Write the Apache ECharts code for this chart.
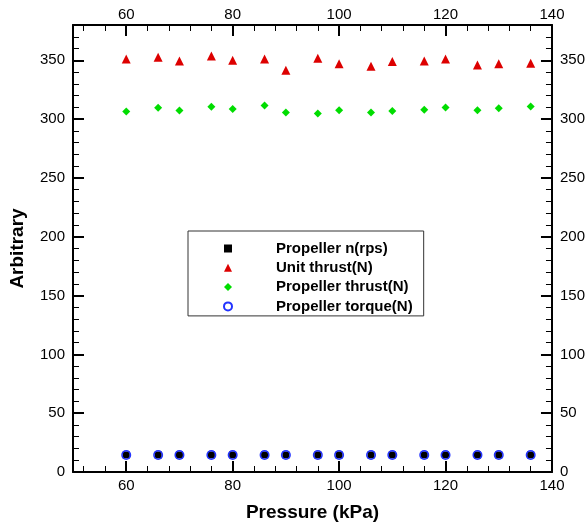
<!DOCTYPE html>
<html>
<head>
<meta charset="utf-8">
<script src="https://cdn.jsdelivr.net/npm/echarts@6/dist/echarts.min.js"></script>
<style>
html,body{margin:0;padding:0;background:#fff;}
#chart{width:588px;height:527px;}
</style>
</head>
<body>
<div id="chart"></div>
<script>
var pressure = [60, 66, 70, 76, 80, 86, 90, 96, 100, 106, 110, 116, 120, 126, 130, 136];
var propellerN = [14.5, 14.5, 14.5, 14.5, 14.5, 14.5, 14.5, 14.5, 14.5, 14.5, 14.5, 14.5, 14.5, 14.5, 14.5, 14.5];
var unitThrust = [351, 352.5, 349.5, 353.7, 350, 351, 341.5, 351.7, 347, 345, 349, 349.4, 351, 346, 347, 347.5];
var propellerThrust = [306.5, 309.6, 307.3, 310.5, 308.5, 311.6, 305.6, 304.8, 307.6, 305.6, 306.8, 307.9, 309.9, 307.6, 309.3, 310.7];
var propellerTorque = [14.5, 14.5, 14.5, 14.5, 14.5, 14.5, 14.5, 14.5, 14.5, 14.5, 14.5, 14.5, 14.5, 14.5, 14.5, 14.5];
var seriesNames = ['Propeller n(rps)', 'Unit thrust(N)', 'Propeller thrust(N)', 'Propeller torque(N)'];
var xMajorTicks = [60, 80, 100, 120, 140];
var xMinorTicks = [52, 56, 64, 68, 72, 76, 84, 88, 92, 96, 104, 108, 112, 116, 124, 128, 132, 136];

function pairs(ys) { return pressure.map(function (x, i) { return [x, ys[i]]; }); }

var FONT = '"Liberation Sans", Arial, sans-serif';
var lbl = { color: '#000', fontFamily: FONT, fontSize: 15 };
var nameStyle = { color: '#000', fontFamily: FONT, fontSize: 19, fontWeight: 'bold' };

function xMajor(pos, showName) {
  return {
    type: 'value', position: pos, min: 50, max: 140,
    name: showName ? 'Pressure (kPa)' : '', nameLocation: 'middle', nameGap: 31,
    nameTextStyle: nameStyle,
    axisLine: { show: true, onZero: false, lineStyle: { color: '#000', width: 2 } },
    axisTick: { show: true, inside: true, length: 11, customValues: xMajorTicks, lineStyle: { color: '#000', width: 2 } },
    axisLabel: Object.assign({ margin: pos === 'top' ? 3 : 6, customValues: xMajorTicks }, lbl),
    splitLine: { show: false }
  };
}
function xMinor(pos) {
  return {
    type: 'value', position: pos, min: 50, max: 140,
    axisLine: { show: false, onZero: false },
    axisTick: { show: true, inside: true, length: 6, customValues: xMinorTicks, lineStyle: { color: '#000', width: 1 } },
    axisLabel: { show: false },
    splitLine: { show: false }
  };
}
function yAx(pos, showName) {
  return {
    type: 'value', position: pos, min: 0, max: 380, interval: 50,
    name: showName ? 'Arbitrary' : '', nameLocation: 'middle', nameGap: 46,
    nameTextStyle: nameStyle,
    axisLine: { show: true, onZero: false, lineStyle: { color: '#000', width: 2 } },
    axisTick: { show: true, inside: true, length: 11, lineStyle: { color: '#000', width: 2 } },
    minorTick: { show: true, splitNumber: 5, length: 6, lineStyle: { color: '#000', width: 1 } },
    axisLabel: Object.assign({ margin: 8, showMaxLabel: false }, lbl),
    splitLine: { show: false }
  };
}

var chart = echarts.init(document.getElementById('chart'), null, { renderer: 'canvas' });
chart.setOption({
  animation: false,
  backgroundColor: '#fff',
  grid: { left: 69, right: 36, top: 25, bottom: 53, containLabel: false },
  xAxis: [xMajor('bottom', true), xMajor('top', false), xMinor('bottom'), xMinor('top')],
  yAxis: [yAx('left', true), yAx('right', false)],
  legend: {
    orient: 'vertical', left: 188, top: 231,
    padding: [8, 11, 0, 35],
    backgroundColor: '#fff', borderColor: '#333', borderWidth: 1,
    itemWidth: 8, itemHeight: 8, itemGap: 0.3,
    textStyle: { color: '#000', fontFamily: FONT, fontSize: 15, fontWeight: 'bold', lineHeight: 19, padding: [0, 0, 0, 39] },
    data: seriesNames
  },
  series: [
    { name: seriesNames[0], type: 'scatter', symbol: 'rect', symbolSize: 7,
      itemStyle: { color: '#000', opacity: 1 }, data: pairs(propellerN), z: 2 },
    { name: seriesNames[1], type: 'scatter', symbol: 'triangle', symbolSize: 9,
      itemStyle: { color: '#dd0000', opacity: 1 }, data: pairs(unitThrust), z: 2 },
    { name: seriesNames[2], type: 'scatter', symbol: 'diamond', symbolSize: 8,
      itemStyle: { color: '#00dd00', opacity: 1 }, data: pairs(propellerThrust), z: 2 },
    { name: seriesNames[3], type: 'scatter', symbol: 'circle', symbolSize: 8.5,
      itemStyle: { color: 'rgba(0,0,0,0)', borderColor: '#2233ff', borderWidth: 1.5, opacity: 1 }, data: pairs(propellerTorque), z: 3 }
  ]
});
</script>
</body>
</html>
